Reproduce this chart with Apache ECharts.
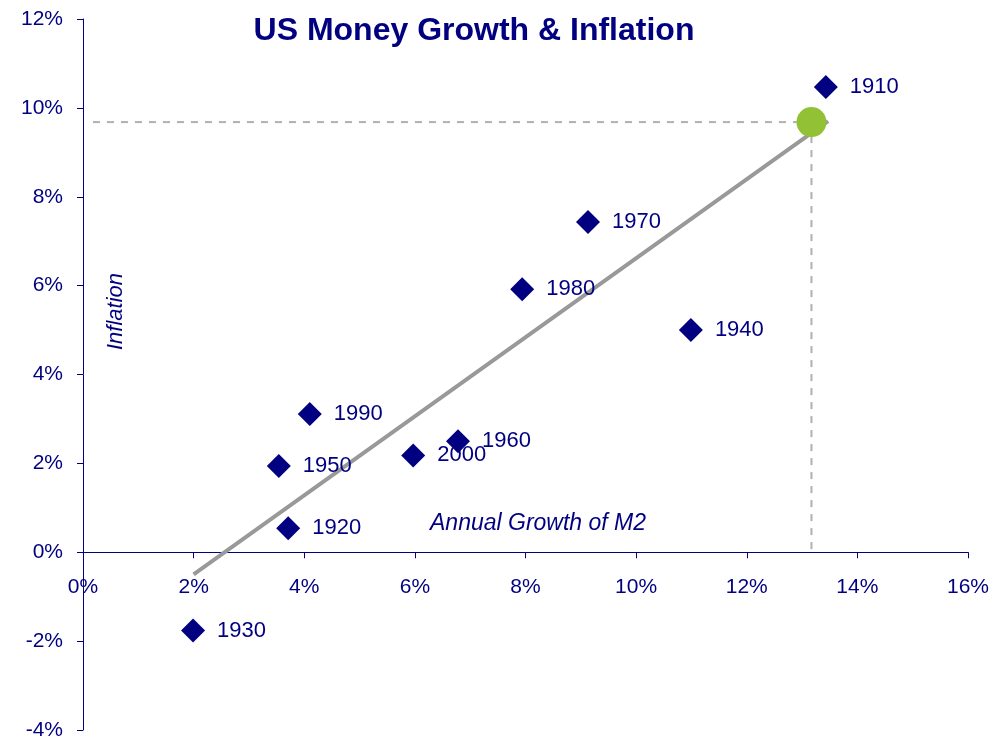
<!DOCTYPE html>
<html>
<head>
<meta charset="utf-8">
<script src="https://cdn.jsdelivr.net/npm/echarts@6/dist/echarts.min.js"></script>
<style>
  html, body { margin: 0; padding: 0; background: #fff; }
  #chart { width: 1004px; height: 740px; }
</style>
</head>
<body>
<div id="chart"></div>
<script>
// decades, M2 growth (%) and inflation (%)
var decades = ['1910', '1920', '1930', '1940', '1950', '1960', '1970', '1980', '1990', '2000'];
var m2Growth = [13.43, 3.71, 1.99, 10.99, 3.54, 6.78, 9.13, 7.94, 4.10, 5.97];
var inflation = [10.47, 0.54, -1.76, 5.0, 1.94, 2.50, 7.43, 5.92, 3.11, 2.18];

// fitted line end points and the highlighted point
var trendX = [2.0, 13.47];
var trendY = [-0.5, 9.7];
var markX = 13.17;
var markY = 9.68;
var guideStartX = 0.18;

var xMin = 0, xMax = 16, yMin = -4, yMax = 12, step = 2;

var navy = '#000080';
var font = '"Liberation Sans", Arial, sans-serif';

var gridTop = 19, gridBottom = 10, chartH = 740;
var plotH = chartH - gridTop - gridBottom;
// x axis sits on y = 0, labels move with it
var xAxisOffset = -plotH * (0 - yMin) / (yMax - yMin);

var points = decades.map(function (d, i) {
  return { name: d, value: [m2Growth[i], inflation[i]] };
});

var option = {
  animation: false,
  textStyle: { fontFamily: font },
  title: {
    text: 'US Money Growth & Inflation',
    left: 469,
    textAlign: 'center',
    top: 10,
    textStyle: { color: navy, fontSize: 32, fontWeight: 'bold', fontFamily: font }
  },
  grid: { left: 83, right: 36, top: gridTop, bottom: gridBottom, outerBoundsMode: 'none', containLabel: false },
  xAxis: {
    type: 'value',
    min: xMin,
    max: xMax,
    interval: step,
    offset: xAxisOffset,
    splitLine: { show: false },
    axisLine: { onZero: false, lineStyle: { color: navy, width: 1 } },
    axisTick: { show: true, length: 6, lineStyle: { color: navy } },
    axisLabel: { color: navy, fontSize: 21, margin: 24, formatter: '{value}%', fontFamily: font }
  },
  yAxis: {
    type: 'value',
    min: yMin,
    max: yMax,
    interval: step,
    splitLine: { show: false },
    axisLine: { onZero: false, lineStyle: { color: navy, width: 1 } },
    axisTick: { show: true, length: 6, lineStyle: { color: navy } },
    axisLabel: { color: navy, fontSize: 21, margin: 20, formatter: '{value}%', fontFamily: font }
  },
  graphic: [
    {
      type: 'text',
      left: 430,
      top: 512,
      style: { text: 'Annual Growth of M2', fill: navy, fontSize: 23, fontStyle: 'italic', fontFamily: font }
    },
    {
      type: 'text',
      x: 105,
      y: 350,
      rotation: Math.PI / 2,
      style: { text: 'Inflation', fill: navy, fontSize: 22, fontStyle: 'italic', fontFamily: font }
    }
  ],
  series: [
    {
      type: 'line',
      name: 'guideH',
      data: [[guideStartX, markY], [markX, markY]],
      symbol: 'none',
      silent: true,
      z: 1,
      lineStyle: { color: '#b0b0b0', width: 2, type: [7, 7] }
    },
    {
      type: 'line',
      name: 'guideV',
      data: [[markX, markY], [markX, 0]],
      symbol: 'none',
      silent: true,
      z: 1,
      lineStyle: { color: '#b0b0b0', width: 2, type: [7, 7] }
    },
    {
      type: 'line',
      name: 'trend',
      data: [[trendX[0], trendY[0]], [trendX[1], trendY[1]]],
      symbol: 'none',
      silent: true,
      z: 2,
      lineStyle: { color: '#999999', width: 4 }
    },
    {
      type: 'scatter',
      name: 'mark',
      data: [[markX, markY]],
      symbol: 'circle',
      symbolSize: 30,
      z: 3,
      itemStyle: { color: '#92c135', opacity: 1 }
    },
    {
      type: 'scatter',
      name: 'decades',
      data: points,
      symbol: 'diamond',
      symbolSize: [24, 24],
      z: 4,
      itemStyle: { color: navy, opacity: 1 },
      label: {
        show: true,
        position: 'right',
        distance: 12,
        formatter: '{b}',
        color: navy,
        fontSize: 22,
        fontFamily: font
      }
    }
  ]
};

var chart = echarts.init(document.getElementById('chart'));
chart.setOption(option);
</script>
</body>
</html>
